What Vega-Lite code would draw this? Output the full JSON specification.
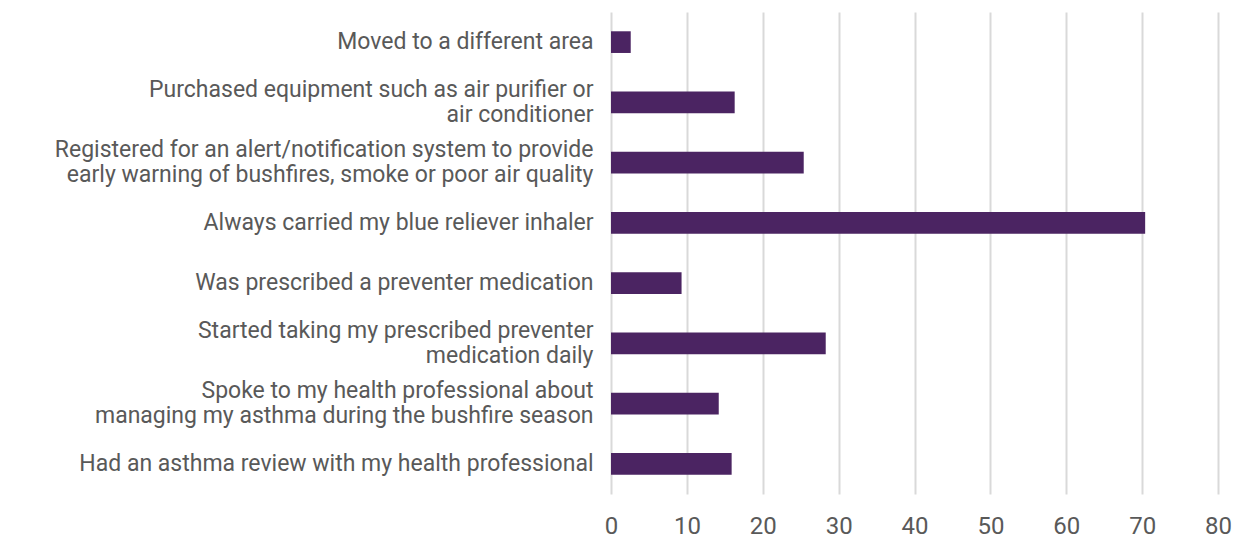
{
  "$schema": "https://vega.github.io/schema/vega-lite/v6.json",
  "width": 607,
  "height": 482,
  "autosize": "none",
  "padding": {"left": 611, "top": 12, "right": 17, "bottom": 44},
  "background": "white",
  "data": {"values": [
    {"action": "Moved to a different area", "pct": 2.6},
    {"action": "Purchased equipment such as air purifier or|air conditioner", "pct": 16.3},
    {"action": "Registered for an alert/notification system to provide|early warning of bushfires, smoke or poor air quality", "pct": 25.4},
    {"action": "Always carried my blue reliever inhaler", "pct": 70.4},
    {"action": "Was prescribed a preventer medication", "pct": 9.3},
    {"action": "Started taking my prescribed preventer|medication daily", "pct": 28.3},
    {"action": "Spoke to my health professional about|managing my asthma during the bushfire season", "pct": 14.2},
    {"action": "Had an asthma review with my health professional", "pct": 15.9}
  ]},
  "mark": {"type": "bar", "color": "#4B2462"},
  "encoding": {
    "y": {
      "field": "action", "type": "nominal", "sort": null,
      "scale": {"paddingInner": 0.64, "paddingOuter": 0.32},
      "axis": {
        "title": null, "ticks": false, "domain": false, "grid": false,
        "labelExpr": "split(datum.value, '|')",
        "labelOffset": {"expr": "indexof(datum.value, '|') >= 0 ? -12.5 : 0"},
        "labelFont": "Roboto", "labelFontSize": 23, "labelColor": "#595959",
        "labelLineHeight": 25, "labelPadding": 18, "labelLimit": 0
      }
    },
    "x": {
      "field": "pct", "type": "quantitative",
      "scale": {"domain": [0, 80], "nice": false},
      "axis": {
        "title": null, "ticks": false, "domain": false,
        "values": [0, 10, 20, 30, 40, 50, 60, 70, 80],
        "gridColor": "#d9d9d9", "gridWidth": 2, "gridOpacity": 1,
        "labelFont": "Roboto", "labelFontSize": 24, "labelColor": "#595959",
        "labelPadding": 20, "labelFlush": false
      }
    }
  },
  "config": {"view": {"stroke": null}}
}
